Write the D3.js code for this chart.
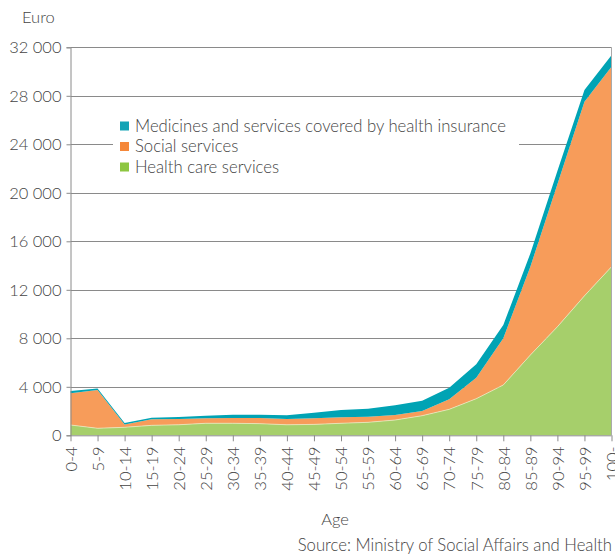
<!DOCTYPE html>
<html><head><meta charset="utf-8">
<script src="https://cdn.jsdelivr.net/npm/d3@7"></script>
<style>
body{margin:0;background:#fff;}
svg text{font-family:Lato,"Open Sans",sans-serif;fill:#444;font-weight:300;}
</style></head>
<body><svg id="c" width="615" height="557"></svg>
<script>
const ages = ["0-4","5-9","10-14","15-19","20-24","25-29","30-34","35-39","40-44","45-49","50-54","55-59","60-64","65-69","70-74","75-79","80-84","85-89","90-94","95-99","100-"];
const healthCare = [850, 580, 660, 820, 870, 990, 990, 960, 870, 900, 990, 1070, 1260, 1620, 2140, 3020, 4150, 6620, 8950, 11500, 13900];
const socialServices = [2610, 3150, 240, 500, 470, 410, 440, 470, 470, 500, 490, 460, 410, 380, 830, 1730, 3850, 7280, 11750, 16000, 16500];
const medicines = [190, 140, 110, 130, 170, 220, 270, 270, 310, 450, 610, 660, 800, 850, 950, 1100, 1090, 1100, 1100, 970, 950];
const yTicks = [0, 4000, 8000, 12000, 16000, 20000, 24000, 28000, 32000];
const seriesNames = ["Medicines and services covered by health insurance", "Social services", "Health care services"];

const svg = d3.select("#c");
const pL = 70.5, pR = 611.5, pT = 47.3, pB = 435.3;
const x = d3.scalePoint().domain(ages).range([pL, pR]);
const y = d3.scaleLinear().domain([0, 32000]).range([pB, pT]);
const fmt = d3.formatLocale({decimal: ".", thousands: " ", grouping: [3], currency: ["", ""]}).format(",d");
const grid = "#8a8a8a";

// gridlines
svg.append("g").selectAll("line").data(yTicks.filter(d => d > 0)).join("line")
  .attr("x1", pL).attr("x2", pR)
  .attr("y1", d => Math.round(y(d)) + 0.5).attr("y2", d => Math.round(y(d)) + 0.5)
  .attr("stroke", grid).attr("stroke-width", 1);

// stack
const rows = ages.map((a, i) => ({age: a, hc: healthCare[i], ss: socialServices[i], md: medicines[i]}));
const stack = d3.stack().keys(["hc", "ss", "md"])(rows);
const colors = {hc: "#a6cf6b", ss: "#f79c5a", md: "#00a3b4"};
const area = d3.area().x(d => x(d.data.age)).y0(d => y(d[0])).y1(d => y(d[1]));
svg.append("g").selectAll("path").data(stack).join("path")
  .attr("d", area).attr("fill", d => colors[d.key]);
svg.append("path").datum(stack[0])
  .attr("d", d3.line().x(d => x(d.data.age)).y(d => y(d[1])))
  .attr("fill", "none").attr("stroke", "#e8efc8").attr("stroke-width", 0.7);

// y axis
const yAxis = d3.axisLeft(y).tickValues(yTicks).tickFormat(fmt).tickSize(4).tickPadding(5);
const ya = svg.append("g").attr("transform", `translate(${pL},0)`).call(yAxis);
ya.select(".domain").attr("stroke", grid);
ya.selectAll(".tick line").attr("stroke", grid);
ya.selectAll(".tick text").attr("font-size", 16.5).attr("fill", "#444").style("font-family", "Lato,sans-serif").style("font-weight", 300);

// right border
svg.append("line").attr("x1", pR).attr("x2", pR).attr("y1", pT).attr("y2", pB)
  .attr("stroke", "#aaa").attr("stroke-width", 1);

// x axis
const xAxis = d3.axisBottom(x).tickSize(6).tickPadding(4);
const xa = svg.append("g").attr("transform", `translate(0,${pB})`).call(xAxis);
xa.select(".domain").attr("stroke", grid).attr("d", `M${pL},0.5H${pR}`);
xa.selectAll(".tick line").attr("stroke", grid);
xa.selectAll(".tick text").attr("font-size", 16.5).attr("fill", "#444").style("font-family", "Lato,sans-serif").style("font-weight", 300)
  .attr("text-anchor", "end").attr("dy", "0.35em")
  .attr("transform", "translate(0,6) rotate(-90)").attr("x", -5).attr("y", 0);

// legend
const lg = svg.append("g");
lg.append("rect").attr("x", 113).attr("y", 112).attr("width", 406).attr("height", 68).attr("fill", "#fff");
const legColors = ["#13a3b5", "#f5883a", "#8dc641"];
seriesNames.forEach((n, i) => {
  const cy = 126 + i * 20.5;
  lg.append("rect").attr("x", 120).attr("y", cy - 4.5).attr("width", 9).attr("height", 9).attr("fill", legColors[i]);
  lg.append("text").attr("x", 135).attr("y", cy).attr("dy", "0.35em").attr("font-size", 16.7).text(n);
});

// titles
svg.append("text").attr("x", 22).attr("y", 17).attr("dy", "0.35em").attr("font-size", 16.5).text("Euro");
svg.append("text").attr("x", 335).attr("y", 519).attr("dy", "0.35em").attr("text-anchor", "middle").attr("font-size", 16.5).text("Age");
svg.append("text").attr("x", 612).attr("y", 545).attr("dy", "0.35em").attr("text-anchor", "end").attr("font-size", 16.7).text("Source: Ministry of Social Affairs and Health");
</script></body></html>
